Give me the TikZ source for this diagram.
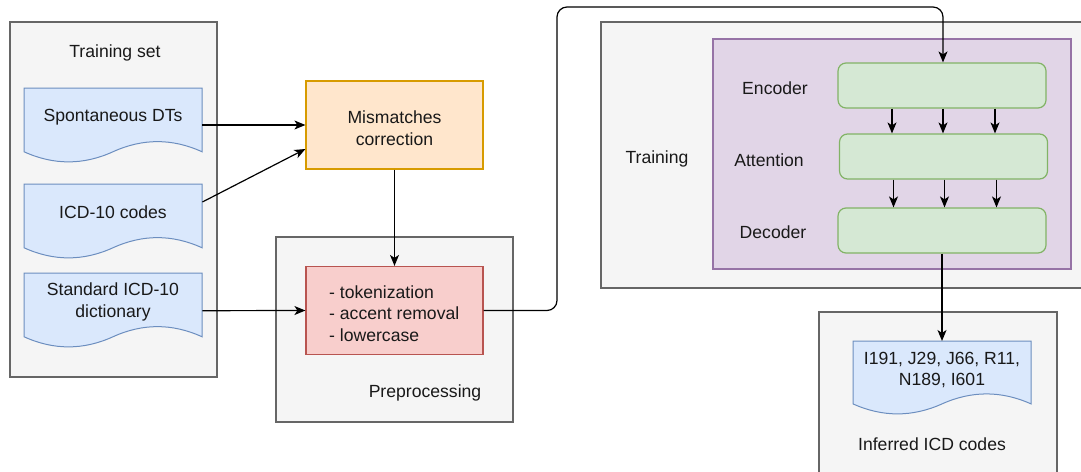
\documentclass[tikz,border=0pt]{standalone}
\usepackage{fontspec}
\setmainfont{Liberation Sans}
\usetikzlibrary{arrows.meta,calc}
\definecolor{grayfill}{HTML}{F5F5F5}
\definecolor{graystroke}{HTML}{666666}
\definecolor{docfill}{HTML}{DAE8FC}
\definecolor{docstroke}{HTML}{6C8EBF}
\definecolor{orfill}{HTML}{FFE6CC}
\definecolor{orstroke}{HTML}{D79B00}
\definecolor{redfill}{HTML}{F8CECC}
\definecolor{redstroke}{HTML}{B85450}
\definecolor{purfill}{HTML}{E1D5E7}
\definecolor{purstroke}{HTML}{9673A6}
\definecolor{grfill}{HTML}{D5E8D4}
\definecolor{grstroke}{HTML}{82B366}
\newcommand\mydoc[5]{% name, x0, y0, w, h
  \pgfmathsetmacro\dyv{0.3*#5}
  \pgfmathsetmacro\ev{#3+#5-\dyv/2}
  \pgfmathsetmacro\cya{\ev+2/3*(#3+#5-1.4*\dyv-\ev)}
  \pgfmathsetmacro\cyb{\ev+2/3*(#3+#5+0.4*\dyv-\ev)}
  \draw[docline] (#2,#3) -- (#2+#4,#3) -- (#2+#4,\ev)
    .. controls (#2+5*#4/6,\cya) and (#2+2*#4/3,\cya) .. (#2+#4/2,\ev)
    .. controls (#2+#4/3,\cyb) and (#2+#4/6,\cyb) .. (#2,\ev) -- cycle;
  \node[anchor=north west, minimum width=#4, minimum height=#5, inner sep=0pt] (#1) at (#2,#3) {};
}
\tikzset{
  x=1pt, y=-1pt,
  every node/.style={font=\fontsize{17.6}{21.5}\selectfont, text=black!90},
  grp/.style={draw=graystroke, fill=grayfill, line width=1.3pt},
  docline/.style={draw=docstroke, fill=docfill, line width=1pt},
  lbl/.style={align=center, inner sep=0pt},
  proc/.style={draw=#1stroke, fill=#1fill, line width=1.2pt, minimum width=177pt, minimum height=88pt, inner sep=0pt},
  layer/.style={draw=grstroke, fill=grfill, line width=1.2pt, rounded corners=8pt, minimum width=208pt, minimum height=45pt, inner sep=0pt},
  conn/.style={draw=black, line width=1.2pt, -{Stealth[length=11pt,width=9pt,inset=3pt]}},
}
\begin{document}
\begin{tikzpicture}
\useasboundingbox (0,0) rectangle (1081,471);
% group boxes
\draw[grp] (10,22) rectangle (217,377);
\draw[grp] (276,237) rectangle (513,422);
\draw[grp] (601,22) rectangle (1095,288);
\draw[grp] (819,312) rectangle (1057,485);
\draw[draw=purstroke, fill=purfill, line width=1.2pt] (713,39) rectangle (1071,269);
% group labels
\node[lbl] (tsl) at (115,53) {Training set};
\node[lbl] (ppl) at (425,393) {Preprocessing};
\node[lbl] (trl) at (657,159) {Training};
\node[lbl] (icl) at (932,444) {Inferred ICD codes};
% documents
\mydoc{d1}{24}{88}{178}{75}
\node[lbl] (d1t) at (113,117) {Spontaneous DTs};
\mydoc{d2}{24}{184}{178}{75}
\node[lbl] (d2t) at (113,212) {ICD-10 codes};
\mydoc{d3}{24}{273}{178}{75}
\node[lbl] (d3t) at (113,302) {Standard ICD-10\\dictionary};
\mydoc{out}{853}{341}{178}{74}
\node[lbl] (outt) at (942,370) {I191, J29, J66, R11,\\N189, I601};
% process boxes
\node[proc=or] (mis) at (394.5,125) {};
\node[lbl] (mist) at (394.5,128) {Mismatches\\correction};
\node[proc=red] (pre) at (394.5,310.5) {};
\node[lbl, align=left, anchor=west] (pret) at (329,313.5) {- tokenization\\- accent removal\\- lowercase};
% encoder-attention-decoder
\node[layer] (enc) at (942,85.5) {};
\node[layer] (att) at (943.5,156.5) {};
\node[layer] (dec) at (942,230.5) {};
\node[lbl] (encl) at (775,88) {Encoder};
\node[lbl] (attl) at (769,160) {Attention};
\node[lbl] (decl) at (773,232) {Decoder};
% connectors
\draw[conn] ([yshift=-37pt]d1.north east) -- (mis.west);
\draw[conn] ([yshift=-18pt]d2.north east) -- ([yshift=-24pt]mis.west);
\draw[conn] (d3.east) -- (pre.west);
\draw[conn] (mis.south) -- (pre.north);
\coordinate (c1) at (557,310.5);
\coordinate (c2) at (557,7);
\coordinate (c3) at (943,7);
\draw[conn, rounded corners=10pt] (pre.east) -- (c1) -- (c2) -- (c3) -- (enc.north -| c3);
\foreach \dx in {-50,1,53}{
  \draw[conn] ([xshift=\dx pt]enc.south) -- ([xshift=\dx pt]enc.south |- att.north);
  \draw[conn] ([xshift=\dx pt]att.south) -- ([xshift=\dx pt]att.south |- dec.north);
}
\draw[conn] (dec.south) -- (dec.south |- out.north);
\end{tikzpicture}
\end{document}
